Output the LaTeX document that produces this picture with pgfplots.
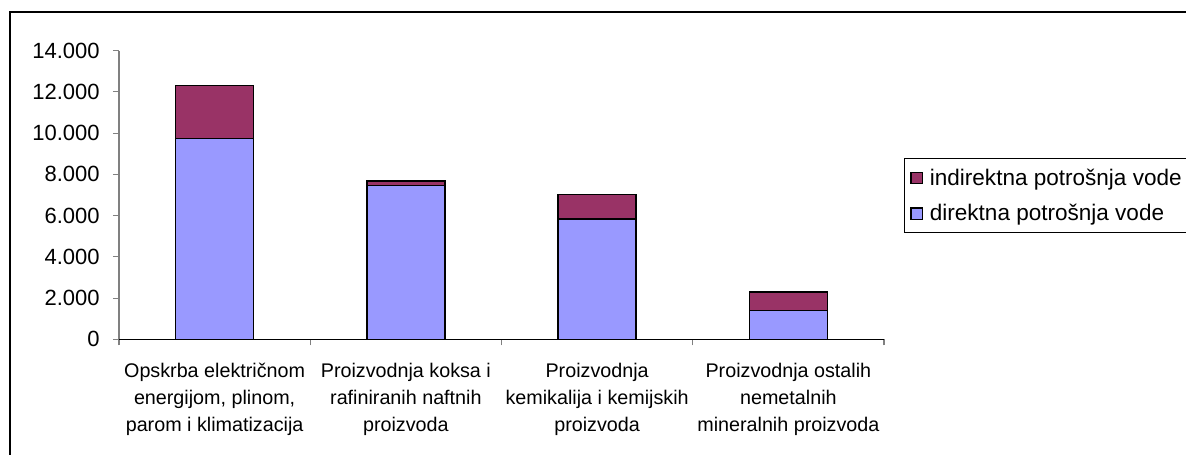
\documentclass[border=0pt]{standalone}
\usepackage{pgfplots}
\pgfplotsset{compat=1.18}
\usepackage{fontspec}
\setmainfont{Liberation Sans}
\definecolor{direct}{HTML}{9999FF}
\definecolor{indirect}{HTML}{993366}
\begin{document}
\begin{tikzpicture}
\useasboundingbox (0pt,0pt) rectangle (889.5pt,340.5pt);
\draw[line width=1.1pt, black] (7.5pt,-5pt) -- (7.5pt,331.5pt) -- (900pt,331.5pt);
\begin{axis}[
  at={(89.25pt,86.0pt)}, anchor=south west,
  scale only axis, width=573.75pt, height=216.45pt,
  xmin=-0.5, xmax=3.5, ymin=0, ymax=14000,
  ybar stacked, bar width=58.5pt,
  axis lines*=left,
  x axis line style={black, line width=1pt},
  y axis line style={gray, line width=1pt},
  tick align=outside,
  ytick={0,2000,4000,6000,8000,10000,12000,14000},
  scaled y ticks=false,
  y tick label style={font=\fontsize{16.5}{19}\selectfont, xshift=-6.5pt, /pgf/number format/.cd, 1000 sep={.}, assume math mode=true},
  xtick={0,1,2,3},
  xticklabels={{Opskrba električnom\\energijom, plinom,\\parom i klimatizacija},
               {Proizvodnja koksa i\\rafiniranih naftnih\\proizvoda},
               {Proizvodnja\\kemikalija i kemijskih\\proizvoda},
               {Proizvodnja ostalih\\nemetalnih\\mineralnih proizvoda}},
  x tick label style={align=center, font=\fontsize{14.8}{20.25}\selectfont, yshift=-10pt},
  major x tick style={draw=none},
  minor xtick={-0.5,0.5,1.5,2.5,3.5},
  minor tick length=4.5pt,
  major tick length=4.5pt,
  every tick/.style={gray, line width=0.8pt},
  reverse legend,
  legend cell align=left,
  legend style={at={(1.026,0.628)}, anchor=north west, draw=black, line width=0.8pt,
    font=\fontsize{16.9}{20}\selectfont, row sep=9pt, inner xsep=4.5pt, inner ysep=5.5pt},
]
\addplot[fill=direct, draw=black, line width=1.1pt,
  legend image code/.code={\draw[fill=direct, draw=black, line width=0.9pt] (0pt,-4.2pt) rectangle (8.4pt,4.2pt); \path (11.6pt,0pt);}]
  coordinates {(0,9750) (1,7450) (2,5840) (3,1410)};
\addplot[fill=indirect, draw=black, line width=1.1pt,
  legend image code/.code={\draw[fill=indirect, draw=black, line width=0.9pt] (0pt,-4.2pt) rectangle (8.4pt,4.2pt); \path (11.6pt,0pt);}]
  coordinates {(0,2570) (1,240) (2,1180) (3,890)};
\legend{direktna potrošnja vode, indirektna potrošnja vode}
\end{axis}
\end{tikzpicture}
\end{document}
